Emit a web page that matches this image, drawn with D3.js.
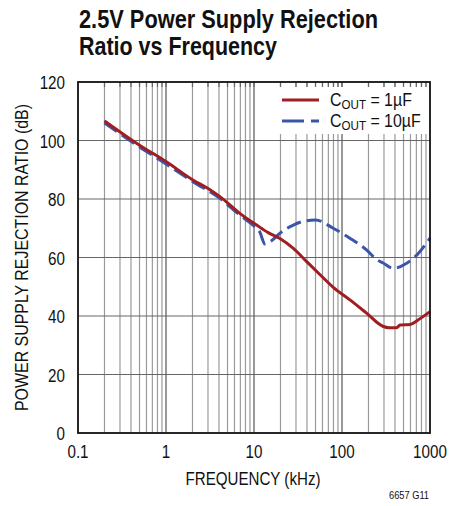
<!DOCTYPE html>
<html><head><meta charset="utf-8">
<script src="https://cdn.jsdelivr.net/npm/d3@7"></script>
<style>
html,body{margin:0;padding:0;background:#fff;}
svg{display:block;}
text{font-family:"Liberation Sans",Arial,sans-serif;fill:#111;}
</style></head>
<body>
<svg id="c" width="449" height="506"></svg>
<script>
const titleLines = ["2.5V Power Supply Rejection", "Ratio vs Frequency"];
const xTickValues = [0.1, 1, 10, 100, 1000];
const xTickLabels = ["0.1", "1", "10", "100", "1000"];
const yTickValues = [0, 20, 40, 60, 80, 100, 120];
const xAxisTitle = "FREQUENCY (kHz)";
const yAxisTitle = "POWER SUPPLY REJECTION RATIO (dB)";
const footnote = "6657 G11";

const freq1uF = [0.2, 0.5, 1, 2, 3.16, 4.1, 6.9, 10.7, 14.5, 19.7, 28, 39.7, 56, 79.6, 123, 190, 295, 340, 417, 458, 593, 736, 1000];
const psrr1uF = [106.7, 98.4, 92.8, 86.6, 83.2, 80.8, 75.1, 71.1, 68.5, 66.5, 63.1, 58.6, 54.2, 49.8, 45.5, 41.0, 36.4, 36.0, 36.0, 36.9, 37.1, 38.7, 41.5];
const freq10uF = [0.2, 0.5, 1, 2, 4.1, 6.9, 10.2, 11.6, 13.3, 15.8, 19.7, 28, 39.7, 50, 79.6, 123, 190, 250, 290, 383, 543, 736, 1000];
const psrr10uF = [106.0, 97.8, 92.0, 86.0, 80.2, 74.5, 70.5, 68.8, 64.6, 65.7, 68.3, 71.1, 72.6, 72.8, 70.0, 66.6, 62.6, 59.2, 58.2, 56.3, 58.0, 61.4, 66.6];
const seriesNames = ["1µF", "10µF"];

const svg = d3.select("#c");
const L = 78, R = 430, T = 82, B = 433;
const x = d3.scaleLog().domain([0.1, 1000]).range([L, R]);
const y = d3.scaleLinear().domain([0, 120]).range([B, T]);
const SX = 0.8;

function label(px, py, str, size, anchor, rot) {
  return svg.append("text")
    .attr("transform", `translate(${px},${py})${rot ? " rotate(" + rot + ")" : ""} scale(${SX},1)`)
    .attr("text-anchor", anchor || "start").attr("font-size", size).text(str);
}

// grid
const minor = [];
for (let d = 0.1; d < 1000; d *= 10) for (let k = 2; k <= 9; k++) minor.push(d * k);
const g = svg.append("g");
g.selectAll(".vmin").data(minor).enter().append("line")
  .attr("x1", d => x(d)).attr("x2", d => x(d)).attr("y1", T).attr("y2", B)
  .attr("stroke", "#9a9a9a").attr("stroke-width", 1.2);
g.selectAll(".vmaj").data([1, 10, 100]).enter().append("line")
  .attr("x1", d => x(d)).attr("x2", d => x(d)).attr("y1", T).attr("y2", B)
  .attr("stroke", "#555").attr("stroke-width", 1.2);
g.selectAll(".h").data(yTickValues.slice(1, -1)).enter().append("line")
  .attr("x1", L).attr("x2", R).attr("y1", d => y(d)).attr("y2", d => y(d))
  .attr("stroke", "#666").attr("stroke-width", 1.2);

// legend background
svg.append("rect").attr("x", 276).attr("y", 87).attr("width", 152).attr("height", 47).attr("fill", "#fff");
// top ticks
g.selectAll(".tt").data(minor.concat([1, 10, 100])).enter().append("line")
  .attr("x1", d => x(d)).attr("x2", d => x(d)).attr("y1", T).attr("y2", T + 5)
  .attr("stroke", "#666").attr("stroke-width", 1.2);

// curves
const line = d3.line().x(d => x(d[0])).y(d => y(d[1])).curve(d3.curveMonotoneX);
svg.append("path").datum(d3.zip(freq10uF, psrr10uF)).attr("d", line)
  .attr("fill", "none").attr("stroke", "#3a56a8").attr("stroke-width", 3).attr("stroke-dasharray", "15,6");
svg.append("path").datum(d3.zip(freq1uF, psrr1uF)).attr("d", line)
  .attr("fill", "none").attr("stroke", "#a01d22").attr("stroke-width", 3);

// frame
svg.append("rect").attr("x", L).attr("y", T).attr("width", R - L).attr("height", B - T)
  .attr("fill", "none").attr("stroke", "#111").attr("stroke-width", 1.8);

// axes labels
yTickValues.forEach(v => label(65, y(v) + 7, String(v), 19, "end"));
xTickValues.forEach((v, i) => label(x(v), 458, xTickLabels[i], 19, "middle"));
svg.append("text").attr("x", 253).attr("y", 485).attr("text-anchor", "middle")
  .attr("font-size", 18).attr("textLength", 135).attr("lengthAdjust", "spacingAndGlyphs").text(xAxisTitle);
svg.append("text").attr("transform", `translate(28,${(T + B) / 2}) rotate(-90)`).attr("text-anchor", "middle")
  .attr("font-size", 19).attr("textLength", 307).attr("lengthAdjust", "spacingAndGlyphs").text(yAxisTitle);
svg.append("text").attr("x", 389).attr("y", 499).attr("font-size", 11)
  .attr("textLength", 40).attr("lengthAdjust", "spacingAndGlyphs").text(footnote);

// title
const titleW = [299, 198];
svg.selectAll(".ti").data(titleLines).enter().append("text")
  .attr("x", 79).attr("y", (d, i) => 28 + i * 27).attr("font-size", 25).attr("font-weight", "bold")
  .attr("textLength", (d, i) => titleW[i]).attr("lengthAdjust", "spacingAndGlyphs").text(d => d);

// legend
const legY = [100, 121];
const styles = [{c: "#a01d22", da: null}, {c: "#3a56a8", da: "22,7"}];
seriesNames.forEach((n, i) => {
  svg.append("line").attr("x1", 282).attr("x2", 319).attr("y1", legY[i]).attr("y2", legY[i])
    .attr("stroke", styles[i].c).attr("stroke-width", 3).attr("stroke-dasharray", styles[i].da);
  const t = svg.append("text").attr("transform", `translate(330,${legY[i] + 6}) scale(0.86,1)`).attr("font-size", 18.5);
  t.append("tspan").text("C");
  t.append("tspan").attr("font-size", 13.5).attr("dy", 3).text("OUT");
  t.append("tspan").attr("dy", -3).text(" = " + n);
});
</script>
</body></html>
